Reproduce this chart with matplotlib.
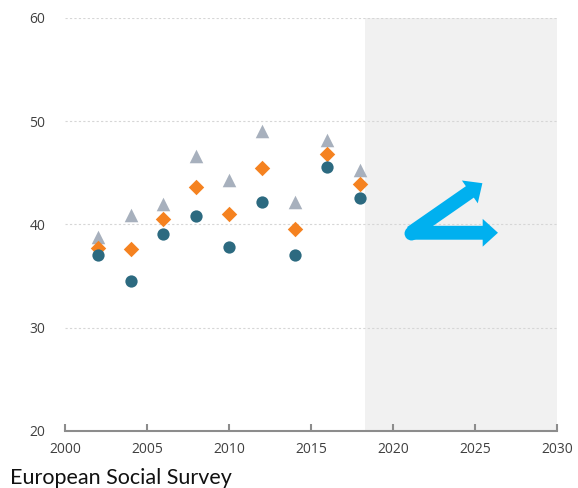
import matplotlib
matplotlib.use("Agg")
import matplotlib.pyplot as plt
from matplotlib.patches import FancyArrowPatch

years = [2002, 2004, 2006, 2008, 2010, 2012, 2014, 2016, 2018]
circle_vals = [37.0, 34.5, 39.1, 40.8, 37.8, 42.2, 37.0, 45.6, 42.6]
diamond_vals = [37.7, 37.6, 40.5, 43.6, 41.0, 45.5, 39.6, 46.8, 43.9]
triangle_vals = [38.8, 40.9, 42.0, 46.6, 44.3, 49.1, 42.2, 48.2, 45.3]
x_ticks = [2000, 2005, 2010, 2015, 2020, 2025, 2030]
y_ticks = [20, 30, 40, 50, 60]
shade_start = 2018.3
caption = "European Social Survey"

plt.rcParams['font.family'] = ['Open Sans', 'DejaVu Sans']

fig = plt.figure(figsize=(5.78, 4.88), dpi=100)
ax = fig.add_axes([65/578, 1-431/488, (557-65)/578, (431-18)/488])

ax.set_xlim(2000, 2030)
ax.set_ylim(20, 60)

ax.axvspan(shade_start, 2030, color='#f1f1f1', zorder=0, lw=0)

for y in [30, 40, 50, 60]:
    ax.axhline(y, color='#d6d6d6', lw=0.8, ls=(0, (2, 2)), zorder=1)

ax.scatter(years, triangle_vals, marker='^', s=95, color='#a7b0bd', zorder=3, lw=0)
ax.scatter(years, diamond_vals, marker='D', s=62, color='#f58220', zorder=4, lw=0)
ax.scatter(years, circle_vals, marker='o', s=78, color='#2c6a80', zorder=5, lw=0)

# arrow icon
arrow_color = '#00b0ef'
start = (2021.1, 39.2)
style = 'simple,head_length=11,head_width=20,tail_width=10'
for end in [(2025.45, 44.0), (2026.4, 39.2)]:
    p = FancyArrowPatch(start, end, arrowstyle=style, mutation_scale=1,
                        color=arrow_color, lw=0, shrinkA=0, shrinkB=0, zorder=6)
    ax.add_patch(p)
ax.plot([start[0]], [start[1]], 'o', ms=10, color=arrow_color, mew=0, zorder=6)

for s in ['left', 'right', 'top']:
    ax.spines[s].set_visible(False)
ax.spines['bottom'].set_color('#8c8c8c')
ax.spines['bottom'].set_linewidth(1.5)

ax.set_xticks(x_ticks)
ax.set_yticks(y_ticks)
ax.tick_params(axis='x', direction='in', length=5, width=1.5, color='#8c8c8c',
               labelsize=10, labelcolor='#404040', pad=8)
ax.tick_params(axis='y', length=0, labelsize=10, labelcolor='#404040', pad=14)

fig.text(10/578, 1-484/488, caption, fontsize=15.5, color='#111111', va='baseline', ha='left',
         family=['Lato', 'DejaVu Sans'])

fig.savefig('out.png', dpi=100)
